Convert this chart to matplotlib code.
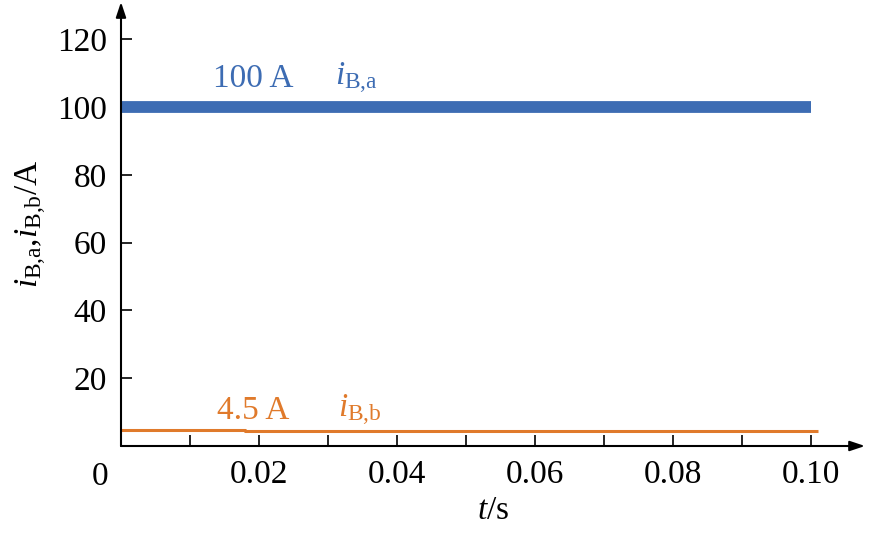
import matplotlib.pyplot as plt
import numpy as np

# data
t_a = [0.0, 0.100]
i_a = [100.0, 100.0]
t_b = [0.0, 0.018, 0.018, 0.101]
i_b = [4.7, 4.7, 4.4, 4.4]

xticks = [0.02, 0.04, 0.06, 0.08, 0.10]
xtick_labels = ['0.02', '0.04', '0.06', '0.08', '0.10']
yticks = [20, 40, 60, 80, 100, 120]

blue = '#3d6cb3'
orange = '#e07a2b'

plt.rcParams['font.family'] = ['Liberation Serif', 'DejaVu Serif']
plt.rcParams['mathtext.fontset'] = 'custom'
plt.rcParams['mathtext.rm'] = 'Liberation Serif'
plt.rcParams['mathtext.it'] = 'Liberation Serif:italic'

fig = plt.figure(figsize=(8.73, 5.38), dpi=100)
ax = fig.add_axes([121 / 873, 1 - 446 / 538, (865 - 121) / 873, 444 / 538])

ax.plot(t_a, i_a, color=blue, lw=8.5, solid_capstyle='butt')
ax.plot(t_b, i_b, color=orange, lw=2.2, solid_capstyle='butt')

ax.set_xlim(0, 0.1078)
ax.set_ylim(0, 131)

for s in ax.spines.values():
    s.set_visible(False)

# axes with arrow heads
ax.annotate('', xy=(1.0, 0), xytext=(0, 0), xycoords='axes fraction',
            arrowprops=dict(arrowstyle='-|>,head_length=0.9,head_width=0.3',
                            color='black', lw=1.5, shrinkA=0, shrinkB=0))
ax.annotate('', xy=(0, 1.0), xytext=(0, 0), xycoords='axes fraction',
            arrowprops=dict(arrowstyle='-|>,head_length=0.9,head_width=0.3',
                            color='black', lw=1.5, shrinkA=0, shrinkB=0))

ax.set_xticks(xticks)
ax.set_xticklabels(xtick_labels)
ax.set_xticks(np.arange(0.01, 0.101, 0.02), minor=True)
ax.set_yticks(yticks)
ax.tick_params(direction='in', length=8, width=1.2, labelsize=24, pad=10)
ax.tick_params(axis='x', which='minor', direction='in', length=8, width=1.2)
ax.text(-0.003, -9, '0', fontsize=24, ha='center', va='center', clip_on=False)

ax.set_xlabel(r'$t$/s', fontsize=24, labelpad=4)
ax.set_ylabel(r'$i_{\mathrm{B{,}a}}$,$i_{\mathrm{B{,}b}}$/A', fontsize=24, labelpad=6)

ax.text(0.0133, 108.5, '100 A', color=blue, fontsize=24, va='center')
ax.text(0.0310, 108.5, r'$i_{\mathrm{B{,}a}}$', color=blue, fontsize=24, va='center')
ax.text(0.0139, 10.5, '4.5 A', color=orange, fontsize=24, va='center')
ax.text(0.0314, 10.5, r'$i_{\mathrm{B{,}b}}$', color=orange, fontsize=24, va='center')

fig.savefig('out.png', dpi=100)
